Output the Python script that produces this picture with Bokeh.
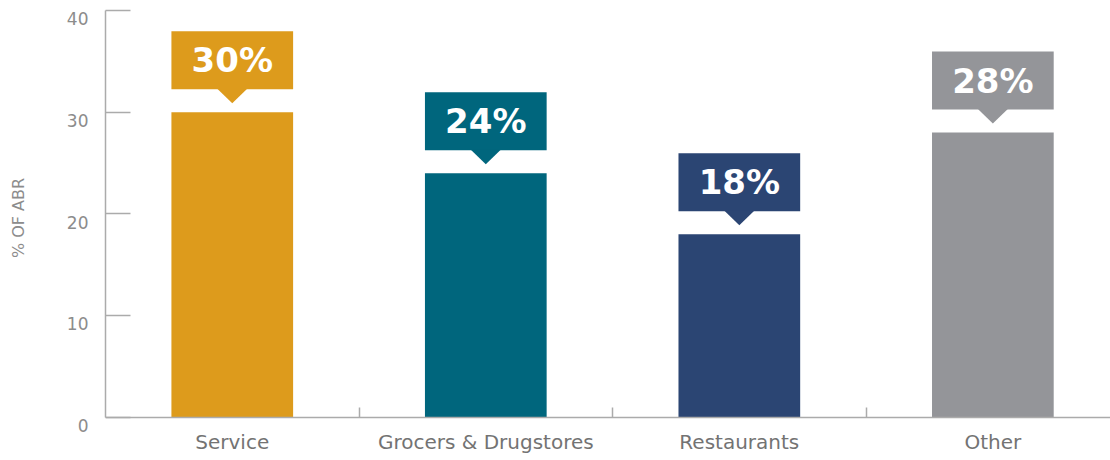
from bokeh.plotting import figure
from bokeh.models import Range1d, FixedTicker, LinearAxis, ColumnDataSource
from bokeh.core.properties import value
from bokeh.embed import file_html
from bokeh.resources import INLINE

categories = ["Service", "Grocers & Drugstores", "Restaurants", "Other"]
values = [30, 24, 18, 28]
value_labels = ["30%", "24%", "18%", "28%"]
colors = ["#DD9B1C", "#00667D", "#2B4573", "#949599"]
y_ticks = [0, 10, 20, 30, 40]
y_tick_labels = ["0", "10", "20", "30", "40"]
y_axis_title = "% OF ABR"

n = len(categories)
xs = [i + 0.5 for i in range(n)]
bounds = [i for i in range(1, n)]

# callout geometry (data-unit offsets above bar top)
BOX_BOTTOM = 2.26
BOX_TOP = 7.96
TIP = 0.88
HALF_W = 0.24
TRI_HALF = 0.059
LABEL_SHIFT = 0.8  # tick labels sit slightly below their ticks

src = ColumnDataSource(dict(
    x=xs, v=values, color=colors, label=value_labels,
    left=[x - HALF_W for x in xs], right=[x + HALF_W for x in xs],
    bb=[v + BOX_BOTTOM for v in values], bt=[v + BOX_TOP for v in values],
    ty=[v + (BOX_BOTTOM + BOX_TOP) / 2 for v in values],
))
tri_xs = [[x - TRI_HALF, x + TRI_HALF, x] for x in xs]
tri_ys = [[v + BOX_BOTTOM + 0.05, v + BOX_BOTTOM + 0.05, v + TIP] for v in values]

y0, y1 = 0, 40
p = figure(width=1110, height=460, x_range=Range1d(0, 3.964),
           y_range=Range1d(y0 - LABEL_SHIFT, y1),
           output_backend="svg", toolbar_location=None,
           min_border_left=105, min_border_right=0, min_border_top=10, min_border_bottom=35)
p.extra_y_ranges = {"lab": Range1d(y0, y1 + LABEL_SHIFT)}
p.grid.visible = False
p.outline_line_color = None
p.background_fill_color = "white"
p.border_fill_color = "white"

AX = "#ababab"

p.vbar(x="x", top="v", width=0.48, bottom=0, fill_color="color", line_color=None, source=src)
p.quad(left="left", right="right", bottom="bb", top="bt", fill_color="color", line_color=None, source=src)
p.patches(tri_xs, tri_ys, fill_color=colors, line_color=None)
p.text(x="x", y="ty", text="label", source=src, text_font=value("DejaVu Sans"),
       text_font_style="bold", text_font_size="34px", text_color="white",
       text_align="center", text_baseline="middle")

# y axis: line + inner ticks
ya = p.yaxis[0]
ya.bounds = (y0, y1)
ya.ticker = FixedTicker(ticks=y_ticks)
ya.major_tick_in = 25
ya.major_tick_out = 0
ya.minor_tick_line_color = None
ya.axis_line_color = AX
ya.axis_line_width = 1.5
ya.major_tick_line_color = AX
ya.major_tick_line_width = 1.5
ya.major_label_overrides = {t: "" for t in y_ticks}
ya.major_label_standoff = 0

# y axis: tick labels (slightly below the ticks) + title
yl = LinearAxis(y_range_name="lab", ticker=FixedTicker(ticks=y_ticks))
yl.major_label_overrides = {t: s for t, s in zip(y_ticks, y_tick_labels)}
yl.axis_line_color = None
yl.major_tick_line_color = None
yl.minor_tick_line_color = None
yl.major_tick_in = 0
yl.major_tick_out = 0
yl.major_label_standoff = 17
yl.major_label_text_font = "DejaVu Sans"
yl.major_label_text_font_size = "17px"
yl.major_label_text_color = "#8c8c8c"
yl.axis_label = y_axis_title
yl.axis_label_text_font = "DejaVu Sans"
yl.axis_label_text_font_size = "16px"
yl.axis_label_text_font_style = "normal"
yl.axis_label_text_color = "#8c8c8c"
yl.axis_label_standoff = 36
p.add_layout(yl, "left")

# x axis: category labels at the frame bottom
xa = p.xaxis[0]
xa.ticker = FixedTicker(ticks=xs)
xa.major_label_overrides = {x: c for x, c in zip(xs, categories)}
xa.axis_line_color = None
xa.major_tick_line_color = None
xa.minor_tick_line_color = None
xa.major_tick_in = 0
xa.major_tick_out = 0
xa.major_label_standoff = 4
xa.major_label_text_font = "DejaVu Sans"
xa.major_label_text_font_size = "20px"
xa.major_label_text_color = "#737373"

# x axis line at y = 0 with category separators
xl = LinearAxis(fixed_location=y0, ticker=FixedTicker(ticks=xs, minor_ticks=bounds))
xl.major_label_overrides = {x: "" for x in xs}
xl.major_tick_line_color = None
xl.major_tick_in = 0
xl.major_tick_out = 0
xl.major_label_standoff = 0
xl.minor_tick_in = 10
xl.minor_tick_out = 0
xl.minor_tick_line_color = AX
xl.minor_tick_line_width = 1.5
xl.axis_line_color = AX
xl.axis_line_width = 1.5
p.add_layout(xl, "below")

open("out.html", "w").write(file_html(p, INLINE))
